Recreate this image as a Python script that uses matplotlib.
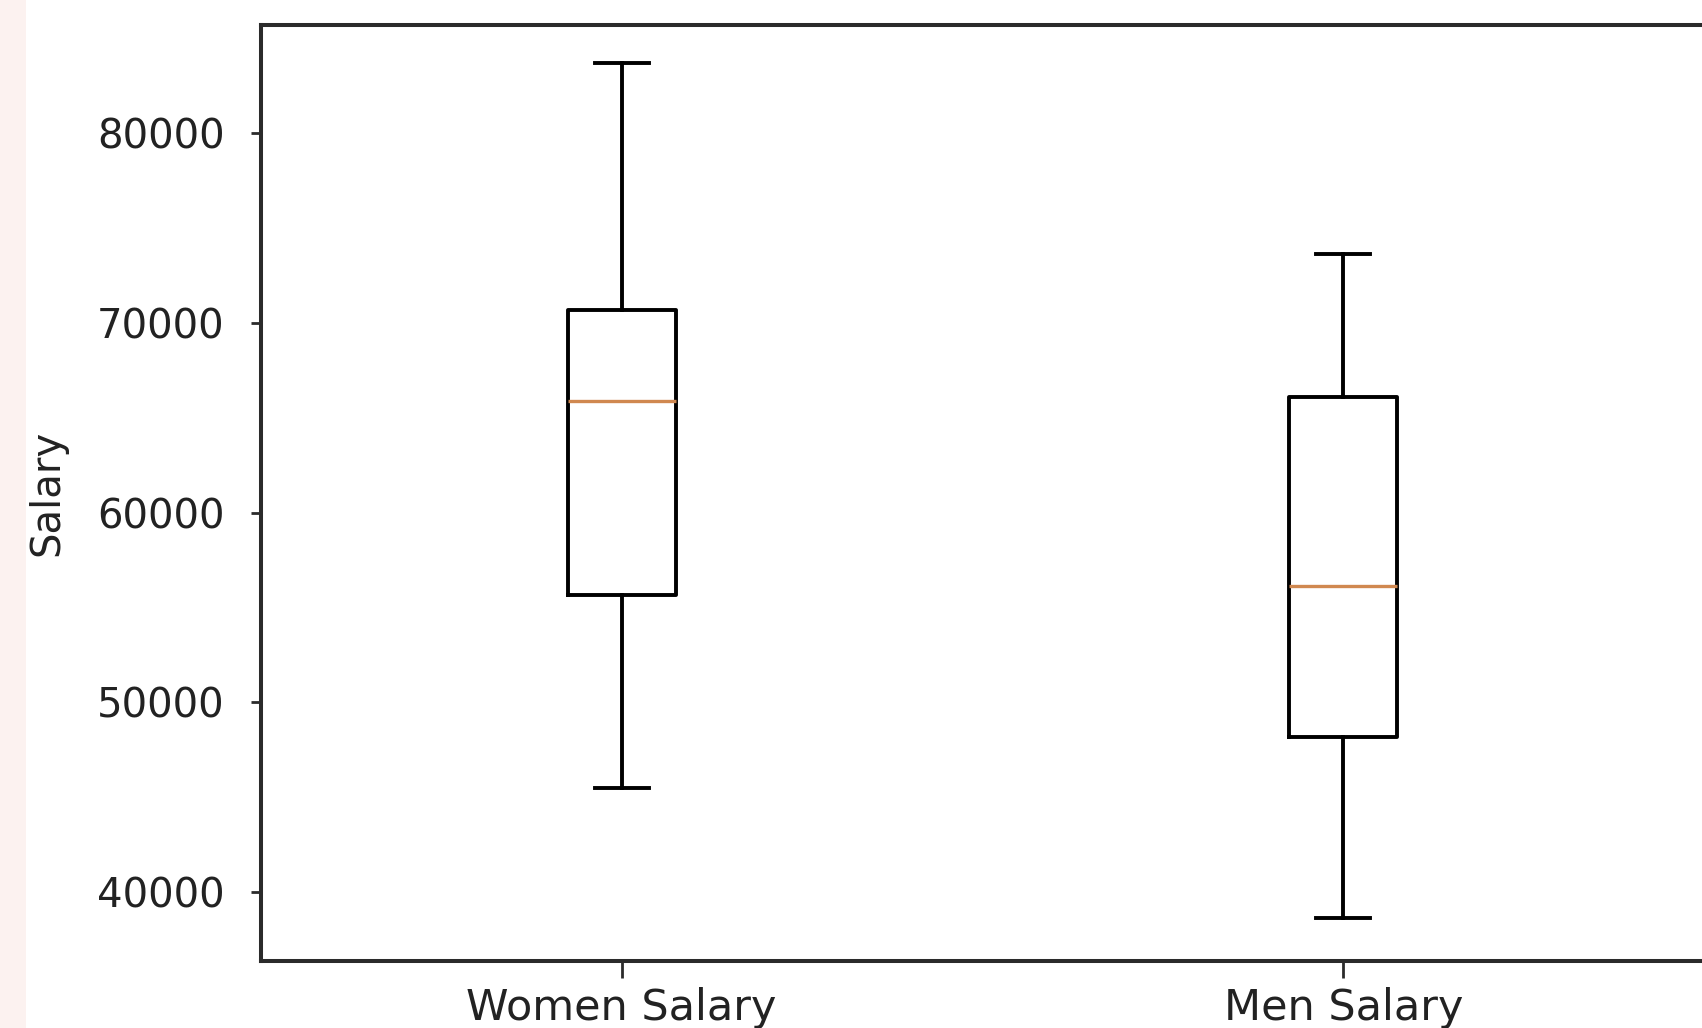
import matplotlib
matplotlib.use("Agg")
import matplotlib.pyplot as plt
from matplotlib.patches import Rectangle

# Data
categories = ["Women Salary", "Men Salary"]
whisker_low = [45480, 38630]
q1 = [55650, 48170]
medians = [65880, 56130]
q3 = [70670, 66070]
whisker_high = [83690, 73620]
yticks = [40000, 50000, 60000, 70000, 80000]

fig = plt.figure(figsize=(17.02, 10.28), dpi=100)
fig.patches.append(Rectangle((0, 0), 26 / 1702, 1, transform=fig.transFigure,
                             facecolor="#fcf2f0", edgecolor="none", zorder=-1))
ax = fig.add_axes([261 / 1702, 67 / 1028, 1443 / 1702, 936 / 1028])

stats = []
for i, name in enumerate(categories):
    stats.append(dict(label=name, whislo=whisker_low[i], q1=q1[i], med=medians[i],
                      q3=q3[i], whishi=whisker_high[i], fliers=[]))

ax.bxp(stats, positions=[1, 2], widths=0.15, showfliers=False,
       boxprops=dict(color="black", linewidth=2.8),
       whiskerprops=dict(color="black", linewidth=2.8),
       capprops=dict(color="black", linewidth=2.8),
       medianprops=dict(color="#d08850", linewidth=2.4))

ax.set_xlim(0.5, 2.5)
ax.set_ylim(36364, 85692)
ax.set_yticks(yticks)
ax.set_yticklabels([str(v) for v in yticks])
ax.set_ylabel("Salary", fontsize=29, color="#222222")
ax.yaxis.set_label_coords(-0.134, 0.5)

for s in ax.spines.values():
    s.set_linewidth(2.9)
    s.set_color("#2b2b2b")

ax.tick_params(axis="y", length=7.2, width=2.0, pad=19, labelsize=29,
               colors="#2b2b2b", labelcolor="#222222")
ax.tick_params(axis="x", length=12, width=2.0, pad=7, labelsize=31,
               colors="#2b2b2b", labelcolor="#222222")

fig.savefig("out.png", dpi=100)
